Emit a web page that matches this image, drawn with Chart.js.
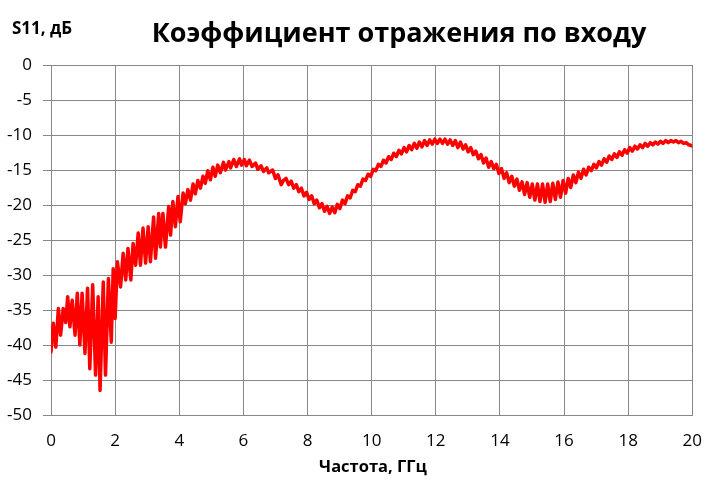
<!DOCTYPE html>
<html>
<head>
<meta charset="utf-8">
<script src="https://cdn.jsdelivr.net/npm/chart.js"></script>
<style>
  html, body { margin: 0; padding: 0; background: #ffffff; }
  #chart { display: block; }
</style>
</head>
<body>
<canvas id="chart" width="718" height="480"></canvas>
<script>
// Частота, ГГц
const freqGHz = [
  0.00, 0.07, 0.15, 0.23, 0.30, 0.38, 0.46, 0.52, 0.59, 0.66,
  0.75, 0.82, 0.90, 0.97, 1.06, 1.14, 1.21, 1.30, 1.39, 1.47,
  1.53, 1.63, 1.70, 1.79, 1.88, 1.94, 2.00, 2.07, 2.17, 2.25,
  2.33, 2.40, 2.49, 2.56, 2.64, 2.72, 2.79, 2.87, 2.95, 3.03,
  3.10, 3.20, 3.26, 3.36, 3.41, 3.49, 3.57, 3.67, 3.73, 3.80,
  3.88, 3.96, 4.03, 4.12, 4.19, 4.27, 4.35, 4.43, 4.50, 4.58,
  4.66, 4.74, 4.81, 4.89, 4.97, 5.05, 5.12, 5.20, 5.28, 5.38,
  5.44, 5.55, 5.60, 5.70, 5.78, 5.88, 5.94, 6.03, 6.09, 6.19,
  6.27, 6.38, 6.45, 6.55, 6.63, 6.73, 6.79, 6.91, 7.00, 7.08,
  7.18,
  7.25, 7.33, 7.41, 7.49, 7.57, 7.65, 7.73, 7.81, 7.89, 7.97,
  8.05, 8.13, 8.21, 8.29, 8.37, 8.45, 8.53, 8.61, 8.69, 8.77,
  8.85, 8.93, 9.01, 9.09, 9.17, 9.25, 9.33, 9.41, 9.49, 9.57,
  9.65, 9.73, 9.81, 9.89, 9.97, 10.05, 10.13, 10.21, 10.29, 10.37,
  10.45, 10.53, 10.61, 10.69, 10.77, 10.85, 10.93, 11.01, 11.09, 11.17,
  11.25, 11.33, 11.41, 11.49, 11.57, 11.65, 11.73, 11.81, 11.89, 11.97,
  12.05, 12.13, 12.21, 12.29, 12.37, 12.45, 12.53, 12.61, 12.69, 12.77,
  12.85, 12.93, 13.01, 13.09, 13.17, 13.25, 13.33, 13.41, 13.49, 13.57,
  13.65, 13.73, 13.81, 13.89, 13.97, 14.05, 14.13, 14.21, 14.29, 14.37,
  14.45, 14.53, 14.61, 14.69, 14.77, 14.85, 14.93, 15.01, 15.09, 15.17,
  15.25, 15.33, 15.41, 15.49, 15.57, 15.65, 15.73, 15.81, 15.89, 15.97,
  16.05, 16.13, 16.21, 16.29, 16.37, 16.45, 16.53, 16.61, 16.69, 16.77,
  16.85, 16.93, 17.01, 17.09, 17.17, 17.25, 17.33, 17.41, 17.49, 17.57,
  17.65, 17.73, 17.81, 17.89, 17.97, 18.05, 18.13, 18.21, 18.29, 18.37,
  18.45, 18.53, 18.61, 18.69, 18.77, 18.85, 18.93, 19.01, 19.09, 19.17,
  19.25, 19.33, 19.41, 19.49, 19.57, 19.65, 19.73, 19.81, 19.89, 19.97,
  20.00
];

// S11, дБ
const s11dB = [
  -41.0, -36.9, -40.3, -34.8, -38.6, -34.8, -36.8, -33.1, -37.4, -33.6,
  -38.6, -32.6, -40.0, -32.6, -41.2, -31.9, -43.4, -31.4, -44.3, -33.1,
  -46.5, -31.0, -44.3, -30.5, -39.6, -29.1, -36.2, -28.1, -31.7, -26.9,
  -30.7, -26.2, -30.7, -25.5, -28.6, -24.0, -28.6, -23.3, -28.3, -23.1,
  -28.1, -21.7, -27.6, -21.2, -26.0, -21.2, -26.0, -20.2, -24.3, -19.5,
  -23.1, -18.8, -22.4, -18.3, -19.8, -17.8, -19.3, -17.0, -18.4, -16.5,
  -17.6, -15.9, -16.9, -15.1, -16.4, -14.6, -15.9, -14.3, -15.4, -13.9,
  -15.0, -13.8, -14.7, -13.5, -14.5, -13.4, -14.3, -13.5, -14.4, -13.6,
  -14.5, -14.0, -14.9, -14.4, -15.2, -14.7, -15.4, -15.0, -16.2, -15.7,
  -17.1,
  -16.5, -16.2, -17.1, -16.6, -17.6, -17.1, -18.1, -17.6, -18.7, -18.2,
  -19.2, -18.7, -19.8, -19.3, -20.4, -19.8, -20.9, -20.2, -21.2, -20.3,
  -21.1, -19.9, -20.5, -19.3, -19.8, -18.7, -19.0, -17.9, -18.1, -17.1,
  -17.3, -16.3, -16.5, -15.6, -15.9, -14.9, -15.1, -14.2, -14.5, -13.6,
  -14.0, -13.1, -13.5, -12.6, -13.1, -12.2, -12.7, -11.8, -12.4, -11.5,
  -12.1, -11.2, -11.9, -11.0, -11.7, -10.8, -11.5, -10.7, -11.3, -10.6,
  -11.2, -10.6, -11.2, -10.6, -11.3, -10.7, -11.5, -10.8, -11.8, -11.0,
  -12.0, -11.4, -12.4, -11.8, -12.8, -12.3, -13.4, -12.8, -14.0, -13.3,
  -14.6, -13.8, -14.8, -14.2, -15.5, -14.8, -16.2, -15.4, -16.8, -15.9,
  -17.3, -16.3, -17.9, -16.7, -18.5, -16.8, -18.9, -17.0, -19.3, -17.0,
  -19.5, -17.0, -19.6, -17.0, -19.5, -16.9, -19.2, -16.7, -18.9, -16.5,
  -18.3, -16.2, -17.5, -15.7, -16.8, -15.3, -16.2, -14.9, -15.7, -14.6,
  -15.1, -14.2, -14.7, -13.8, -14.3, -13.4, -13.9, -13.0, -13.5, -12.7,
  -13.2, -12.4, -12.9, -12.1, -12.6, -11.8, -12.3, -11.6, -12.0, -11.4,
  -11.8, -11.2, -11.6, -11.1, -11.4, -11.0, -11.3, -10.9, -11.2, -10.8,
  -11.1, -10.8, -11.0, -10.8, -11.1, -10.9, -11.2, -11.1, -11.4, -11.5,
  -11.6
];

const xTickValues = [0, 2, 4, 6, 8, 10, 12, 14, 16, 18, 20];
const yTickValues = [0, -5, -10, -15, -20, -25, -30, -35, -40, -45, -50];

const chartTitle = 'Коэффициент отражения по входу';
const yAxisTitle = 'S11, дБ';
const xAxisTitle = 'Частота, ГГц';

const gridColor = '#878787';
const fontFamily = '"Open Sans", "Liberation Sans", sans-serif';

// titles are drawn by hand so they sit exactly where the original has them
const textPlugin = {
  id: 'chartTexts',
  afterDraw(chart) {
    const ctx = chart.ctx;
    ctx.save();
    ctx.fillStyle = '#000000';
    ctx.textBaseline = 'alphabetic';

    ctx.font = 'bold 27px ' + fontFamily;
    ctx.textAlign = 'center';
    ctx.fillText(chartTitle, 399, 42);

    ctx.font = 'bold 17px ' + fontFamily;
    ctx.textAlign = 'left';
    ctx.fillText(yAxisTitle, 12, 34);

    ctx.font = 'bold 16.5px ' + fontFamily;
    ctx.textAlign = 'center';
    ctx.fillText(xAxisTitle, 373, 472);
    ctx.restore();
  }
};

const points = freqGHz.map((f, i) => ({ x: f, y: s11dB[i] }));

new Chart(document.getElementById('chart'), {
  type: 'line',
  data: {
    datasets: [{
      data: points,
      borderColor: '#FF0000',
      borderWidth: 3.5,
      pointRadius: 0,
      borderJoinStyle: 'round',
      borderCapStyle: 'round',
      tension: 0,
      fill: false
    }]
  },
  options: {
    responsive: false,
    animation: false,
    devicePixelRatio: 1,
    layout: { padding: { top: 65, right: 24, left: 0, bottom: 0 } },
    plugins: {
      legend: { display: false },
      tooltip: { enabled: false },
      title: { display: false }
    },
    scales: {
      x: {
        type: 'linear',
        min: 0,
        max: 20,
        afterBuildTicks(scale) { scale.ticks = xTickValues.map(v => ({ value: v })); },
        afterFit(scale) { scale.height = 65; },
        grid: { color: gridColor, lineWidth: 1, drawTicks: false },
        border: { color: gridColor, width: 1 },
        ticks: {
          color: '#000000',
          padding: 16,
          maxRotation: 0,
          font: { family: fontFamily, size: 17 }
        }
      },
      y: {
        type: 'linear',
        min: -50,
        max: 0,
        afterBuildTicks(scale) { scale.ticks = yTickValues.map(v => ({ value: v })); },
        afterFit(scale) { scale.width = 51; },
        grid: { color: gridColor, lineWidth: 1, drawTicks: true, tickLength: 8 },
        border: { color: gridColor, width: 1 },
        ticks: {
          color: '#000000',
          padding: 11,
          font: { family: fontFamily, size: 17 }
        }
      }
    }
  },
  plugins: [textPlugin]
});
</script>
</body>
</html>
